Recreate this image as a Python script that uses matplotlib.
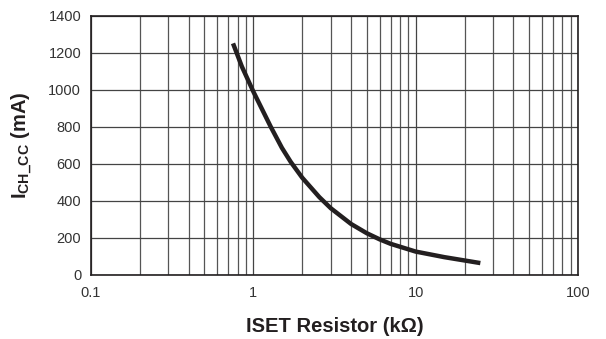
import matplotlib
matplotlib.use('Agg')
import matplotlib.pyplot as plt
from matplotlib.ticker import LogLocator, NullFormatter, FixedLocator

plt.rcParams['font.family'] = ['Liberation Sans', 'DejaVu Sans']
plt.rcParams['mathtext.fontset'] = 'custom'
plt.rcParams['mathtext.rm'] = 'Liberation Sans'
plt.rcParams['mathtext.bf'] = 'Liberation Sans:bold'

# charge current vs ISET resistor
r_iset = [0.75, 0.85, 1.0, 1.28, 1.5, 1.7, 2.0, 2.55, 3.0, 4.0, 5.0, 6.0, 7.0, 10.0, 15.0, 20.0, 25.0]
i_chg = [1250, 1125, 990, 800, 686, 610, 525, 420, 360, 275, 225, 192, 168, 126, 96, 78, 64]

y_ticks = [0, 200, 400, 600, 800, 1000, 1200, 1400]
x_ticks = [0.1, 1, 10, 100]
x_tick_labels = ['0.1', '1', '10', '100']

fig = plt.figure(figsize=(6.06, 3.39), dpi=100)
ax = fig.add_axes([0.150, 0.189, 0.804, 0.765])

ax.plot(r_iset, i_chg, color='#231f20', lw=3.2, solid_capstyle='butt',
        solid_joinstyle='round', zorder=3)

ax.set_xscale('log')
ax.set_xlim(0.1, 100)
ax.set_ylim(0, 1400)
ax.xaxis.set_major_locator(FixedLocator(x_ticks))
ax.set_xticklabels(x_tick_labels)
ax.xaxis.set_minor_locator(LogLocator(base=10, subs=range(2, 10)))
ax.xaxis.set_minor_formatter(NullFormatter())
ax.set_yticks(y_ticks)

ax.grid(True, which='major', color='#444444', lw=0.9)
ax.grid(True, which='minor', axis='x', color='#555555', lw=0.9)
ax.tick_params(which='both', length=0, labelsize=10.5, colors='#333333')
ax.tick_params(axis='x', pad=8)
ax.tick_params(axis='y', pad=7)

for s in ax.spines.values():
    s.set_color('#231f20')
    s.set_linewidth(1.2)

ax.set_xlabel('ISET Resistor (k\u03a9)', fontsize=14.5, fontweight='bold', color='#231f20', labelpad=12)
ax.set_ylabel(r'$\mathbf{I_{CH\_CC}}$ (mA)', fontsize=14.5, fontweight='bold', color='#231f20', labelpad=10)

fig.savefig('out.png', dpi=100)
